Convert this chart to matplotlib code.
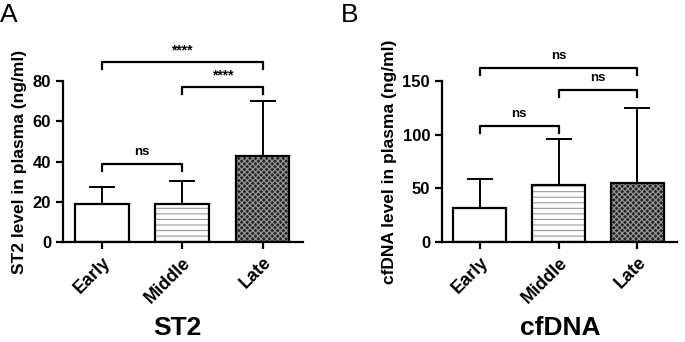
import matplotlib.pyplot as plt
import numpy as np

plt.rcParams['font.family'] = ['Liberation Sans', 'DejaVu Sans']
plt.rcParams['hatch.linewidth'] = 0.8

groups = ['Early', 'Middle', 'Late']

st2_mean = [19, 18.7, 43]
st2_sd = [8.5, 11.5, 27]
st2_brackets = [(0, 1, 38.7, 'ns'), (1, 2, 77, '****'), (0, 2, 89.4, '****')]

dna_mean = [32, 53, 55.5]
dna_sd = [27, 43, 69.5]
dna_brackets = [(0, 1, 108, 'ns'), (1, 2, 141.5, 'ns'), (0, 2, 162, 'ns')]

fills = [('white', None, 'white'), ('white', '---', '#999999'), ('#262626', 'xxxxxx', '#9a9a9a')]


def panel(ax, mean, sd, ymax, ystep, brackets, ylabel):
    x = np.arange(len(groups))
    for i in range(len(groups)):
        fc, hatch, hc = fills[i]
        ax.bar(x[i], mean[i], width=0.67, color=fc, hatch=hatch, edgecolor=hc,
               linewidth=0, zorder=2)
        ax.bar(x[i], mean[i], width=0.67, fill=False, edgecolor='black',
               linewidth=1.6, zorder=3)
    ax.errorbar(x, mean, yerr=[np.zeros(3), sd], fmt='none', ecolor='black',
                elinewidth=1.4, capsize=9.5, capthick=1.4, zorder=1)
    drop = ymax * 0.045
    for a, b, h, lab in brackets:
        ax.plot([a, a, b, b], [h - drop, h, h, h - drop], color='black',
                lw=1.6, clip_on=False)
        off = 0.03 if lab.startswith('*') else 0.04
        ax.text((a + b) / 2, h + ymax * off, lab, ha='center', va='bottom',
                fontsize=10 if lab.startswith('*') else 9.5,
                fontweight='bold', clip_on=False)
    ax.set_xlim(-0.48, 2.5)
    ax.set_ylim(0, ymax)
    ax.set_yticks(np.arange(0, ymax + 1, ystep))
    ax.set_xticks(x)
    ax.set_xticklabels(groups, rotation=45, ha='right', rotation_mode='anchor',
                       fontsize=13, fontweight='bold')
    for t in ax.get_yticklabels():
        t.set_fontweight('bold')
        t.set_fontsize(12)
    ax.set_ylabel(ylabel, fontsize=12.5, fontweight='bold', labelpad=4)
    ax.spines['top'].set_visible(False)
    ax.spines['right'].set_visible(False)
    ax.spines['left'].set_linewidth(1.6)
    ax.spines['bottom'].set_linewidth(1.6)
    ax.tick_params(width=1.6, length=5, direction='out')


fig = plt.figure(figsize=(6.85, 3.42), dpi=100)
ax1 = fig.add_axes([0.092, 0.292, 0.350, 0.471])
ax2 = fig.add_axes([0.645, 0.292, 0.343, 0.471])

panel(ax1, st2_mean, st2_sd, 80, 20, st2_brackets, 'ST2 level in plasma (ng/ml)')
panel(ax2, dna_mean, dna_sd, 150, 50, dna_brackets, 'cfDNA level in plasma (ng/ml)')

fig.text(0.0, 0.99, 'A', fontsize=19, va='top', ha='left')
fig.text(0.497, 0.99, 'B', fontsize=19, va='top', ha='left')
fig.text(177 / 685, 0.006, 'ST2', fontsize=19, fontweight='bold', ha='center', va='bottom')
fig.text(560 / 685, 0.006, 'cfDNA', fontsize=19, fontweight='bold', ha='center', va='bottom')

fig.savefig('out.png', dpi=100)
